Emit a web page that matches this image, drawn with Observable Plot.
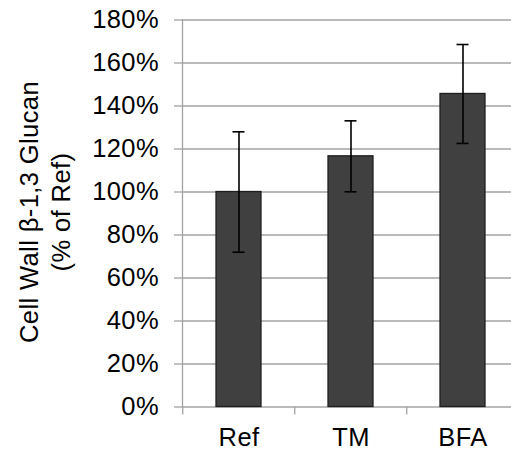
<!DOCTYPE html>
<html>
<head>
<meta charset="utf-8">
<script src="https://cdn.jsdelivr.net/npm/d3@7"></script>
<script src="https://cdn.jsdelivr.net/npm/@observablehq/plot@0.6"></script>
<style>
  html, body { margin: 0; padding: 0; background: #fff; overflow: hidden; }
  #chart svg { display: block; }
</style>
</head>
<body>
<div id="chart"></div>
<script>
// Cell wall β-1,3 glucan relative to the reference strain
const treatments = ["Ref", "TM", "BFA"];
const glucan = [100, 116.6, 145.6];   // % of Ref
const errors = [28, 16.5, 23];        // ± error
const yTicks = [0, 20, 40, 60, 80, 100, 120, 140, 160, 180];
const yLabel = "Cell Wall β-1,3 Glucan\n(% of Ref)";

const rows = treatments.map((t, i) => ({
  treatment: t,
  value: glucan[i],
  lo: glucan[i] - errors[i],
  hi: glucan[i] + errors[i]
}));

const width = 511, height = 455;
const marginLeft = 182, marginRight = -8.5, marginTop = 19.5, marginBottom = 48.5;
const step = (width - marginRight - marginLeft) / treatments.length;
const gray = "#a3a3a3";
const font = "Arial, 'Liberation Sans', sans-serif";
const fs = 25.5;

const chart = Plot.plot({
  width, height, marginLeft, marginRight, marginTop, marginBottom,
  style: { fontFamily: font, fontSize: fs + "px", letterSpacing: "0.4px", color: "#000", background: "#fff" },
  x: { domain: treatments, paddingInner: 0.6, paddingOuter: 0.3, axis: null },
  y: { domain: [0, 180], axis: null },
  marks: [
    Plot.gridY(yTicks, { stroke: gray, strokeOpacity: 1, strokeWidth: 1.3 }),
    Plot.axisY(yTicks, {
      tickSize: 8, tickPadding: 15.5, stroke: gray, strokeWidth: 1.3,
      tickFormat: d => d + "%", fontSize: fs, fill: "#000", label: null
    }),
    Plot.frame({ anchor: "left", stroke: gray, strokeWidth: 1.3 }),
    // category separators below the baseline
    Plot.axisX({
      tickSize: 8, dx: -step / 2, stroke: gray, strokeWidth: 1.3,
      tickFormat: () => "", label: null
    }),
    Plot.axisX({
      tickSize: 0, tickPadding: 20.5, fontSize: fs, fill: "#000", label: null
    }),
    Plot.barY(rows, {
      x: "treatment", y: "value",
      fill: "#404040", stroke: "#1f1f1f", strokeWidth: 1.3
    }),
    Plot.ruleX(rows, { x: "treatment", y1: "lo", y2: "hi", stroke: "#000", strokeWidth: 1.6 }),
    Plot.tickY(rows, { x: "treatment", y: "lo", stroke: "#000", strokeWidth: 1.6, insetLeft: 16.5, insetRight: 16.5 }),
    Plot.tickY(rows, { x: "treatment", y: "hi", stroke: "#000", strokeWidth: 1.6, insetLeft: 16.5, insetRight: 16.5 }),
    Plot.text([yLabel], {
      frameAnchor: "left", rotate: -90, dx: -138.5, dy: -1.5,
      lineHeight: 1.22, lineAnchor: "middle", textAnchor: "middle",
      fontSize: fs, fill: "#000"
    })
  ]
});

document.getElementById("chart").appendChild(chart);
</script>
</body>
</html>
